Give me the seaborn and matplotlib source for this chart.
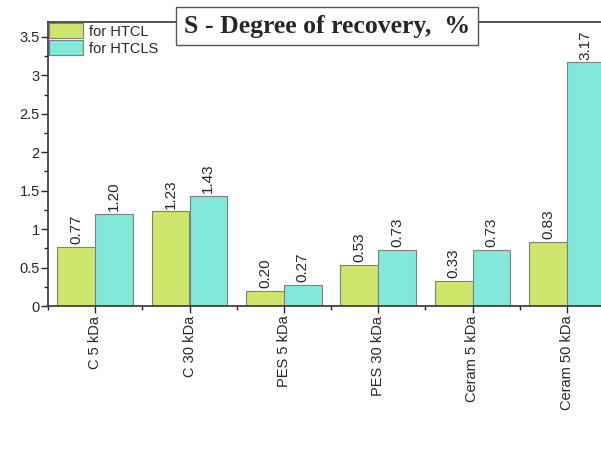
import matplotlib
matplotlib.use("Agg")
import matplotlib.pyplot as plt
import matplotlib.ticker as mticker
from matplotlib.patches import Patch
import seaborn as sns
import pandas as pd

categories = ["C 5 kDa", "C 30 kDa", "PES 5 kDa", "PES 30 kDa", "Ceram 5 kDa", "Ceram 50 kDa"]
htcl = [0.77, 1.23, 0.20, 0.53, 0.33, 0.83]
htcls = [1.20, 1.43, 0.27, 0.73, 0.73, 3.17]
series = ["for HTCL", "for HTCLS"]
colors = ["#cde66b", "#82e8d9"]

df = pd.DataFrame({
    "membrane": categories * 2,
    "value": htcl + htcls,
    "series": [series[0]] * len(categories) + [series[1]] * len(categories),
})

sns.set_style("ticks")
plt.rcParams["font.family"] = ["Liberation Sans", "DejaVu Sans"]

fig = plt.figure(figsize=(6.01, 4.58), dpi=100)
ax = fig.add_axes([48 / 601, 1 - 306 / 458, 566 / 601, 284 / 458])

sns.barplot(data=df, x="membrane", y="value", hue="series", palette=colors,
            saturation=1, width=0.8, edgecolor="#7f7f7f", linewidth=0.8,
            ax=ax, legend=False)

for cont in ax.containers:
    ax.bar_label(cont, fmt="%.2f", rotation=90, padding=2, fontsize=11)

ax.set_xlim(-0.5, 5.5)
ax.set_ylim(0, 3.695)
ax.yaxis.set_major_locator(mticker.MultipleLocator(0.5))
ax.yaxis.set_minor_locator(mticker.MultipleLocator(0.25))
ax.yaxis.set_major_formatter(mticker.FormatStrFormatter("%g"))
ax.xaxis.set_minor_locator(mticker.FixedLocator([i + 0.5 for i in range(-1, 6)]))
ax.tick_params(axis="x", which="major", labelrotation=90, labelsize=10.5, length=5, width=1, pad=2)
ax.tick_params(axis="x", which="minor", length=3, width=1)
ax.tick_params(axis="y", which="major", labelsize=10.5, length=5, width=1, pad=1)
ax.tick_params(axis="y", which="minor", length=3, width=1)
ax.set_xlabel("")
ax.set_ylabel("")
for side in ["left", "bottom", "top", "right"]:
    ax.spines[side].set_visible(True)
    ax.spines[side].set_linewidth(1.2)
    ax.spines[side].set_color("#333333")

handles = [Patch(facecolor=c, edgecolor="#7f7f7f", linewidth=0.8) for c in colors]
ax.legend(handles, series, loc="upper left", frameon=False, fontsize=10.5,
          handlelength=2.3, handleheight=1.2, handletextpad=0.4, labelspacing=0.1,
          borderaxespad=0.0, borderpad=0.1)

fig.text(327 / 601, 1 - 26 / 458, "S - Degree of recovery,  %", ha="center", va="center",
         fontsize=18.5, fontweight="bold", family="Liberation Serif",
         bbox=dict(boxstyle="square,pad=0.3", facecolor="white", edgecolor="#555555", linewidth=1))

fig.savefig("out.png", dpi=100)
